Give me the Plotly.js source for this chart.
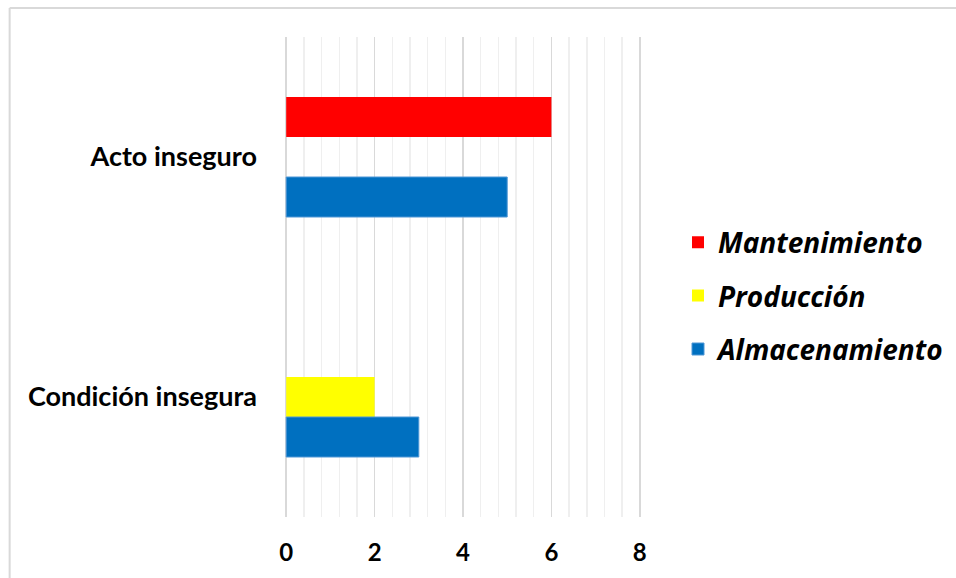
<!DOCTYPE html>
<html>
<head>
<meta charset="utf-8">
<script src="https://cdn.plot.ly/plotly-3.0.1.min.js"></script>
<style>
html,body{margin:0;padding:0;background:#fff;}
#chart{width:956px;height:578px;}
</style>
</head>
<body>
<div id="chart"></div>
<script>
const categories = ["Acto inseguro", "Condición insegura"];
const seriesNames = ["Mantenimiento", "Producción", "Almacenamiento"];
const mantenimiento = [6, 0];
const produccion = [0, 2];
const almacenamiento = [5, 3];
const xTicks = [0, 2, 4, 6, 8];

const colors = {Almacenamiento: "#0070C0", "Producción": "#FFFF00", Mantenimiento: "#FF0000"};
const values = [mantenimiento, produccion, almacenamiento];

const traces = seriesNames.map((name, i) => ({
  type: "bar",
  orientation: "h",
  name: name,
  y: categories,
  x: values[i],
  legendgroup: name,
  marker: {
    color: colors[name],
    line: {color: name === "Almacenamiento" ? "#4f97d6" : colors[name], width: name === "Almacenamiento" ? 1 : 0}
  },
  hoverinfo: "x+name"
}));

// minor grid positions every 0.4, excluding the major ticks
const minorVals = [];
for (let k = 0; k <= 20; k++) {
  if (k % 5 !== 0) minorVals.push(+(k * 0.4).toFixed(2));
}

const pad = 0.05;
const xr = [-pad, 8 + pad];
const unit = 353.5 / 8;
const L = 286.5 - pad * unit, R = 316 - pad * unit, T = 37, B = 61;
const W = 956 - L - R, H = 578 - T - B;
const px = p => (p - L) / W;
const py = p => (578 - B - p) / H;

const layout = {
  width: 956, height: 578,
  margin: {l: L, r: R, t: T, b: B, pad: 0},
  paper_bgcolor: "#ffffff",
  plot_bgcolor: "#ffffff",
  barmode: "group",
  bargap: 0.5,
  bargroupgap: 0,
  font: {family: "Lato, 'Open Sans', sans-serif", color: "#000"},
  xaxis: {
    range: xr,
    tickvals: xTicks,
    ticktext: xTicks.map(String),
    showgrid: true,
    gridcolor: "#d9d9d9",
    gridwidth: 1.5,
    zeroline: false,
    showline: false,
    ticks: "",
    ticklabelstandoff: 19,
    automargin: false,
    tickfont: {family: "Lato, sans-serif", size: 24, weight: "bold", color: "#000"},
    minor: {tickmode: "array", tickvals: minorVals, showgrid: true, gridcolor: "#efefef", gridwidth: 1.5, ticks: ""},
    fixedrange: true
  },
  yaxis: {
    type: "category",
    categoryorder: "array",
    categoryarray: categories,
    range: [1.5, -0.5],
    showgrid: false,
    zeroline: false,
    showline: false,
    ticks: "",
    ticklabelstandoff: 26,
    automargin: false,
    tickfont: {family: "Lato, sans-serif", size: 27, weight: "bold", color: "#000"},
    fixedrange: true
  },
  legend: {
    xref: "container", yref: "container",
    x: 678 / 956, xanchor: "left",
    y: (578 - 296) / 578, yanchor: "middle",
    traceorder: "grouped",
    tracegroupgap: 14,
    bgcolor: "rgba(0,0,0,0)",
    font: {family: "'Open Sans', sans-serif", size: 28, weight: "bold", style: "italic", color: "#000"},
    itemwidth: 30
  },
  showlegend: true,
  shapes: [
    {type: "line", xref: "paper", yref: "paper", x0: px(10), x1: px(10), y0: py(8), y1: py(600),
     line: {color: "#d9d9d9", width: 2}},
    {type: "line", xref: "paper", yref: "paper", x0: px(10), x1: px(980), y0: py(8), y1: py(8),
     line: {color: "#d9d9d9", width: 2}}
  ]
};

Plotly.newPlot("chart", traces, layout, {displayModeBar: false, staticPlot: true});
</script>
</body>
</html>
